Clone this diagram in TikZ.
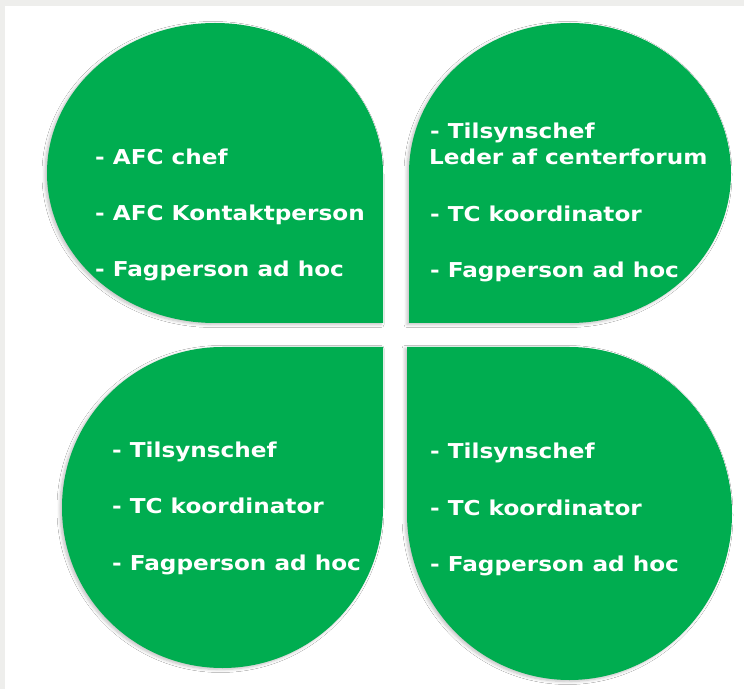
\documentclass[tikz,border=0pt]{standalone}
\usepackage{fontspec}
\newfontfamily\lblfont{DejaVu Sans}[FakeStretch=1.13]
\usetikzlibrary{shadows.blur}
\definecolor{petal}{RGB}{0,173,80}
\definecolor{frame}{RGB}{238,238,236}
\begin{document}
\begin{tikzpicture}[x=1pt,y=1pt,
  petalfill/.style={fill=petal, blur shadow={shadow xshift=-2pt, shadow yshift=-1.5pt, shadow blur radius=3pt, shadow blur steps=6, shadow opacity=25}},
  lbl/.style={anchor=base west, inner sep=0pt, text=white, font=\lblfont\bfseries\fontsize{20.5}{26}\selectfont}]
\useasboundingbox (0,0) rectangle (744,689);
\fill[frame] (0,0) rectangle (744,689);
\fill[white] (4.5,0) rectangle (744,682.5);
% top-left petal
\path[petalfill] (383,366) -- (383,516) arc[start angle=0, end angle=270, x radius=168, y radius=150] -- cycle;
% top-right petal
\path[petalfill] (409,366) -- (570,366) arc[start angle=270, end angle=540, x radius=161, y radius=150] -- cycle;
% bottom-left petal
\path[petalfill] (383,342) -- (222.5,342) arc[start angle=90, end angle=360, x radius=160.5, y radius=160.5] -- cycle;
% bottom-right petal
\path[petalfill] (407,342) -- (407,175.5) arc[start angle=180, end angle=450, x radius=162.5, y radius=166.5] -- cycle;
% texts top-left
\node[lbl] (tl1) at (95,524) {- AFC chef};
\node[lbl] (tl2) at (95,468) {- AFC Kontaktperson};
\node[lbl] (tl3) at (95,412) {- Fagperson ad hoc};
% texts top-right
\node[lbl] (tr1) at (430,550) {- Tilsynschef};
\node[lbl] (tr2) at (429,524) {Leder af centerforum};
\node[lbl] (tr3) at (430,467) {- TC koordinator};
\node[lbl] (tr4) at (430,411) {- Fagperson ad hoc};
% texts bottom-left
\node[lbl] (bl1) at (112,232) {- Tilsynschef};
\node[lbl] (bl2) at (112,176) {- TC koordinator};
\node[lbl] (bl3) at (112,119) {- Fagperson ad hoc};
% texts bottom-right
\node[lbl] (br1) at (430,231) {- Tilsynschef};
\node[lbl] (br2) at (430,174) {- TC koordinator};
\node[lbl] (br3) at (430,118) {- Fagperson ad hoc};
\end{tikzpicture}
\end{document}
